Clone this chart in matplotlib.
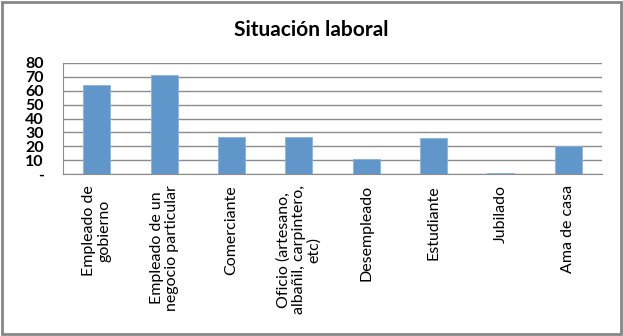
import matplotlib.pyplot as plt
from matplotlib.patches import Rectangle

plt.rcParams['font.family'] = ['Lato', 'DejaVu Sans']

categorias = ["Empleado de\ngobierno", "Empleado de un\nnegocio particular", "Comerciante",
              "Oficio (artesano,\nalbañil, carpintero,\netc)", "Desempleado", "Estudiante",
              "Jubilado", "Ama de casa"]
valores = [64, 71, 27, 27, 11, 26, 1, 20]
yticks = [0, 10, 20, 30, 40, 50, 60, 70, 80]
ylabels = ["-", "10", "20", "30", "40", "50", "60", "70", "80"]

fig = plt.figure(figsize=(6.23, 3.36), dpi=100)
ax = fig.add_axes([63/623, 1 - 174/336, (602-63)/623, (174-63)/336])

x = range(len(categorias))
ax.bar(x, valores, width=0.4, color="#6096c9", edgecolor="#8ab4dc", linewidth=0.6, zorder=3)

ax.set_xlim(-0.5, len(categorias) - 0.5)
ax.set_ylim(0, 80)
ax.set_yticks(yticks)
ax.set_yticklabels(ylabels, fontsize=11.5, fontweight="bold")
ax.set_xticks(list(x))
ax.set_xticklabels(categorias, rotation=90, fontsize=11.5, va="top", ha="center",
                   multialignment="center", linespacing=1.1)
ax.tick_params(axis="x", length=0, pad=8)
ax.tick_params(axis="y", length=0, pad=14)
ax.yaxis.grid(True, color="#8c8c8c", linewidth=1, zorder=0)
for s in ["top", "right"]:
    ax.spines[s].set_visible(False)
ax.spines["left"].set_color("#8c8c8c")
ax.spines["bottom"].set_color("#8c8c8c")

fig.text(0.5, 1 - 30/336, "Situación laboral", ha="center", va="center",
         fontsize=15, fontweight="bold")

fig.patches.append(Rectangle((0.003, 0.005), 0.993, 0.99, transform=fig.transFigure,
                             fill=False, edgecolor="#868686", linewidth=2))

fig.savefig("out.png", dpi=100)
